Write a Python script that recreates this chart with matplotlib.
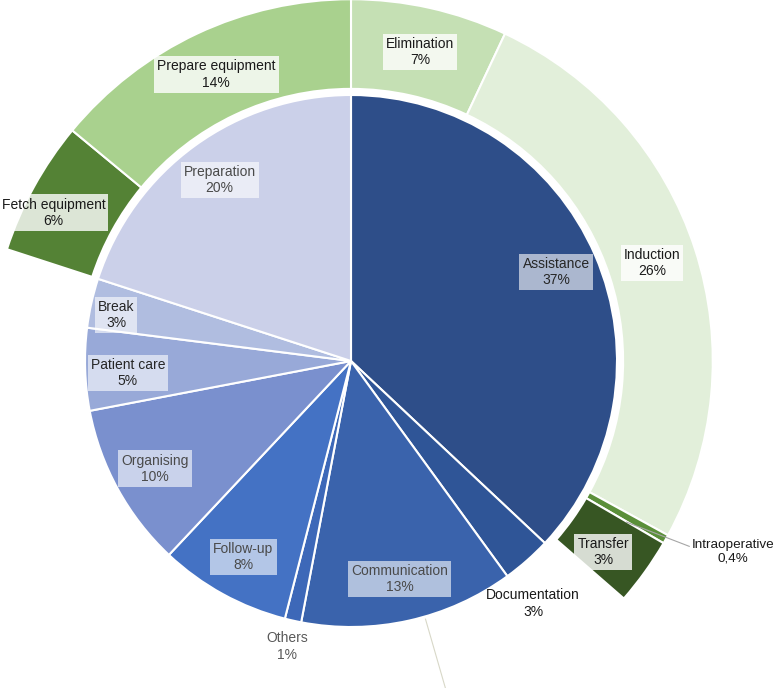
import numpy as np
import matplotlib.pyplot as plt

plt.rcParams['font.family'] = ['Liberation Sans', 'DejaVu Sans']

# inner pie: main activities
inner_labels = ['Assistance', 'Documentation', 'Communication', 'Others',
                'Follow-up', 'Organising', 'Patient care', 'Break',
                'Preparation']
inner_values = [37, 3, 13, 1, 8, 10, 5, 3, 20]
inner_text = ['37%', '3%', '13%', '1%', '8%', '10%', '5%', '3%', '20%']
inner_colors = ['#2E4E89', '#2F5597', '#3A63AC', '#3D68B8', '#4472C4',
                '#7A90CE', '#98A9D8', '#B0BDE0', '#CBD0E9']

# outer ring: breakdown of Assistance and Preparation (None = empty gap)
outer_labels = ['Elimination', 'Induction', 'Intraoperative', 'Transfer',
                None, 'Fetch equipment', 'Prepare equipment']
outer_values = [7, 26, 0.4, 3, 43.6, 6, 14]
outer_text = ['7%', '26%', '0,4%', '3%', '', '6%', '14%']
outer_colors = ['#C5E0B4', '#E2EFDA', '#5B8F3A', '#375623', 'none',
                '#548235', '#A9D18E']

R_IN = 1.0
R_OUT = 1.36
RING_W = 0.337


def mid_angles(values):
    """Mid angle (deg) of each wedge, clockwise from 12 o'clock."""
    values = np.asarray(values, dtype=float)
    cum = np.cumsum(values) - values / 2
    return 90 - 360 * cum / values.sum()


def polar(r, ang):
    return r * np.cos(np.radians(ang)), r * np.sin(np.radians(ang))


fig = plt.figure(figsize=(7.8, 6.88), dpi=100)
ax = fig.add_axes([0, 0, 1, 1])

ax.pie(inner_values, radius=R_IN, colors=inner_colors, startangle=90,
       counterclock=False,
       wedgeprops=dict(edgecolor='white', linewidth=1.5))

wedges, _ = ax.pie(outer_values, radius=R_OUT, colors=outer_colors,
                   startangle=90, counterclock=False,
                   wedgeprops=dict(width=RING_W, edgecolor='white',
                                   linewidth=1.5))
wedges[4].set_edgecolor('none')

# inner labels (radius, angle shift)
inner_pos = {'Documentation': (1.14, -4.5), 'Others': (1.10, 0),
             'Break': (0.9, 1.5), 'Patient care': (0.84, 1.2)}
inner_ang = mid_angles(inner_values)
for lab, txt, ang in zip(inner_labels, inner_text, inner_ang):
    r, da = inner_pos.get(lab, (0.84, 0))
    x, y = polar(r, ang + da)
    if r > 1:
        color = '#595959' if lab == 'Others' else '#1a1a1a'
        ax.text(x, y, lab + '\n' + txt, ha='center', va='center',
                fontsize=10, color=color, linespacing=1.2)
    else:
        dark = lab in ('Break', 'Patient care', 'Assistance')
        ax.text(x, y, lab + '\n' + txt, ha='center', va='center',
                fontsize=10, color='#262626' if dark else '#4a4a4a',
                linespacing=1.2,
                bbox=dict(boxstyle='square,pad=0.22', facecolor='white',
                          alpha=0.6, edgecolor='none'))

# faint leader line under Communication
a = inner_ang[2] + 3.5
ax.plot(*zip(polar(1.01, a), polar(1.5, a)), color='#D8D8C8', lw=0.8)

# outer labels
outer_ang = mid_angles(outer_values)
for lab, txt, ang in zip(outer_labels, outer_text, outer_ang):
    if lab is None:
        continue
    if lab == 'Intraoperative':
        p0 = polar(1.2, ang - 0.8)
        p1 = polar(1.45, ang + 0.8)
        ax.plot(*zip(p0, p1), color='#A6A6A6', lw=0.8)
        ax.text(p1[0] + 0.01, p1[1] - 0.02, lab + '\n' + txt, ha='left',
                va='center', multialignment='center', fontsize=9.7,
                color='#1a1a1a', linespacing=1.2)
        continue
    r, da = 1.19, 0
    if lab == 'Fetch equipment':
        r, da = 1.25, 2.3
    elif lab == 'Transfer':
        da = -1.5
    x, y = polar(r, ang + da)
    ax.text(x, y, lab + '\n' + txt, ha='center', va='center',
            fontsize=10, color='#1a1a1a', linespacing=1.2,
            bbox=dict(boxstyle='square,pad=0.22', facecolor='white',
                      alpha=0.8, edgecolor='none'))

# centre at (351, 361) px, pie radius 266 px
ax.set_xlim(-351 / 266, (780 - 351) / 266)
ax.set_ylim(-(688 - 361) / 266, 361 / 266)
ax.set_aspect('equal')
ax.axis('off')

plt.savefig('out.png', dpi=100)
